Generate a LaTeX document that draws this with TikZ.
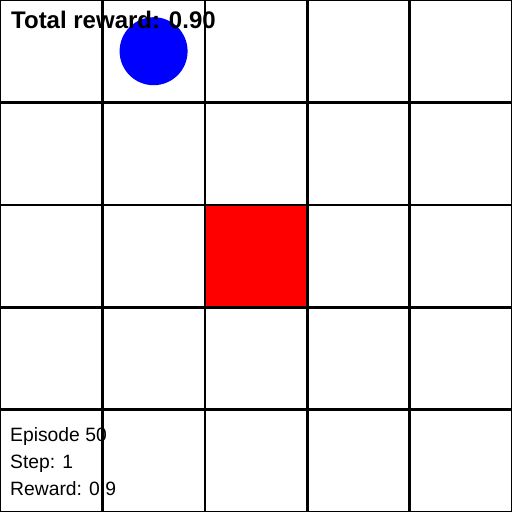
\documentclass[tikz,border=0pt]{standalone}
\usepackage{fontspec}
\setmainfont{Liberation Sans}
\begin{document}
\begin{tikzpicture}[x=1pt,y=-1pt,
  gridline/.style={line width=2.6pt,black},
  goal/.style={fill=red},
  agent/.style={fill=blue},
  title/.style={anchor=base west,inner sep=0pt,font=\fontsize{24}{28}\selectfont\bfseries},
  info/.style={anchor=base west,inner sep=0pt,font=\fontsize{19.3}{23}\selectfont}]
\useasboundingbox[fill=white] (0,0) rectangle (512,512);
\fill[goal] (204.8,204.8) rectangle (307.2,307.2);
\foreach \i in {0,1,2,3,4,5}{
  \draw[gridline] (\i*102.4,0) -- (\i*102.4,512);
  \draw[gridline] (0,\i*102.4) -- (512,\i*102.4);
}
\fill[agent] (153.6,51.2) circle (34);
\node[title] (t) at (11,28) {Total reward: 0.90};
\node[info] (e) at (10,441) {Episode 50};
\node[info] (s) at (10,468) {Step: 1};
\node[info] (r) at (10,495) {Reward: 0.9};
\end{tikzpicture}
\end{document}
